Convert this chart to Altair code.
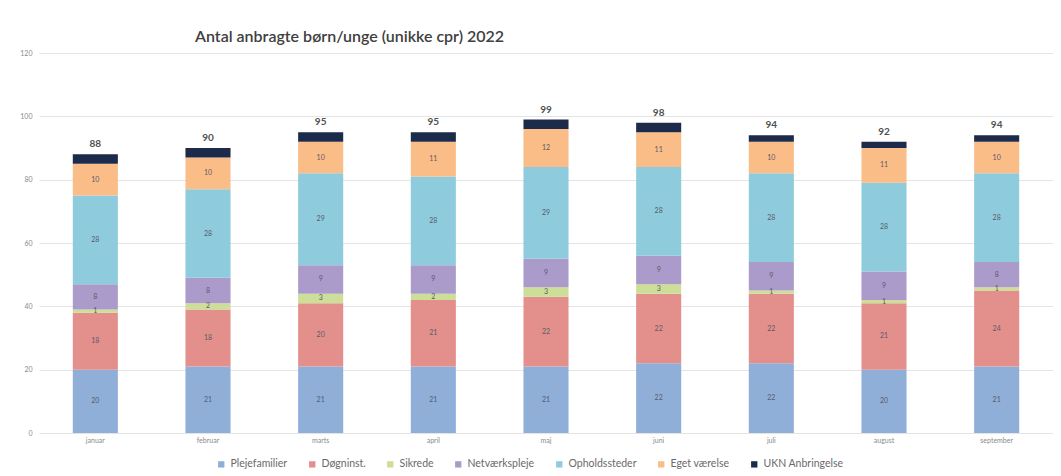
import altair as alt
import pandas as pd

months = ["januar", "februar", "marts", "april", "maj", "juni", "juli", "august", "september"]
series = ["Plejefamilier", "Døgninst.", "Sikrede", "Netværkspleje", "Opholdssteder", "Eget værelse", "UKN Anbringelse"]
colors = ["#8FAFD9", "#E3908D", "#CDDE98", "#AA9BCA", "#8ECCDD", "#FABD88", "#1D2B4A"]

plejefamilier = [20, 21, 21, 21, 21, 22, 22, 20, 21]
doegninst = [18, 18, 20, 21, 22, 22, 22, 21, 24]
sikrede = [1, 2, 3, 2, 3, 3, 1, 1, 1]
netvaerkspleje = [8, 8, 9, 9, 9, 9, 9, 9, 8]
opholdssteder = [28, 28, 29, 28, 29, 28, 28, 28, 28]
eget_vaerelse = [10, 10, 10, 11, 12, 11, 10, 11, 10]
ukn = [3, 3, 3, 3, 3, 3, 2, 2, 2]

values = [plejefamilier, doegninst, sikrede, netvaerkspleje, opholdssteder, eget_vaerelse, ukn]

rows = []
for si, (s, vals) in enumerate(zip(series, values)):
    for m, v in zip(months, vals):
        rows.append({"month": m, "series": s, "value": v, "order": si,
                     "label": "" if s == "UKN Anbringelse" else str(v)})
df = pd.DataFrame(rows)

FONT = "Lato"

x = alt.X("month:N", sort=months, title=None,
          scale=alt.Scale(paddingInner=0.6, paddingOuter=0.3),
          axis=alt.Axis(labelAngle=0, labelFontSize=7, labelColor="#8a8a8a", ticks=False,
                        domain=False, labelPadding=3, labelFont=FONT))

base = alt.Chart(df)

bars = base.mark_bar().encode(
    x=x,
    y=alt.Y("value:Q", stack="zero", title=None,
            scale=alt.Scale(domain=[0, 120]),
            axis=alt.Axis(values=[0, 20, 40, 60, 80, 100, 120], labelFontSize=7,
                          labelColor="#8a8a8a", ticks=False, domain=False,
                          gridColor="#e4e4e4", labelPadding=7, labelFont=FONT)),
    color=alt.Color("series:N", sort=series,
                    scale=alt.Scale(domain=series, range=colors),
                    legend=alt.Legend(title=None, orient="none", direction="horizontal",
                                      legendX=177, legendY=406, symbolType="square",
                                      symbolSize=40, symbolStrokeWidth=0,
                                      labelFontSize=10.5, labelColor="#6a6a6a",
                                      labelFont=FONT, columnPadding=19, columns=7)),
    order=alt.Order("order:Q", sort="ascending"),
)

seg_labels = base.transform_stack(
    stack="value", as_=["y0", "y1"], groupby=["month"],
    sort=[alt.SortField("order", order="ascending")]
).transform_calculate(
    mid="(datum.y0 + datum.y1) / 2"
).mark_text(fontSize=7, color="#5a5a6a", font=FONT).encode(
    x=alt.X("month:N", sort=months),
    y=alt.Y("mid:Q"),
    text="label:N",
)

totals = base.transform_aggregate(
    total="sum(value)", groupby=["month"]
).mark_text(fontSize=10, fontWeight="bold", color="#505050", dy=-10, font=FONT).encode(
    x=alt.X("month:N", sort=months),
    y=alt.Y("total:Q"),
    text="total:Q",
)

chart = alt.layer(bars, seg_labels, totals).properties(
    width=1014, height=380,
    autosize=alt.AutoSizeParams(type="none"),
    padding={"left": 31, "top": 45, "right": 0, "bottom": 43},
    title=alt.TitleParams("Antal anbragte børn/unge (unikke cpr) 2022", anchor="start",
                          frame="group", dx=156, offset=4, fontSize=16, fontWeight=600,
                          color="#404040", font=FONT),
).configure_view(stroke=None)

chart.save("out.html", embed_options={"renderer": "svg", "actions": False})
